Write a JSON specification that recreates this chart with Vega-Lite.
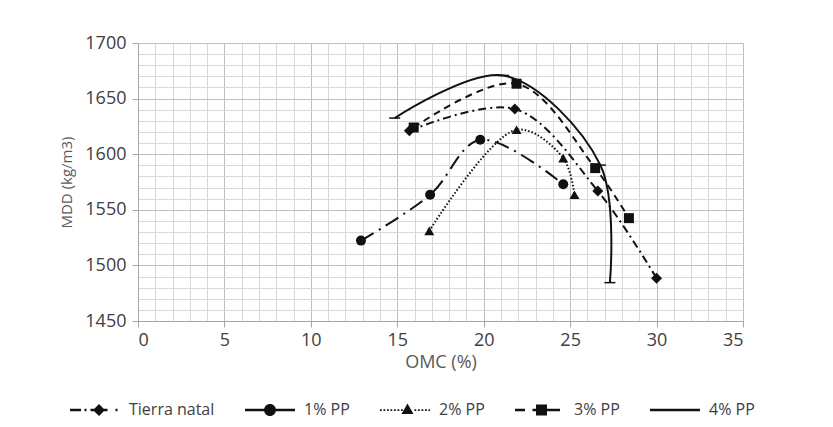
{
  "$schema": "https://vega.github.io/schema/vega-lite/v6.json",
  "width": 605,
  "height": 278,
  "autosize": "none",
  "padding": {"left": 138, "top": 43, "right": 90, "bottom": 106},
  "background": "white",
  "config": {
    "view": {"stroke": null},
    "font": "Open Sans",
    "axis": {
      "labelFont": "Open Sans",
      "labelFontSize": 18,
      "labelColor": "#404040",
      "titleFont": "Open Sans",
      "titleFontWeight": "normal",
      "titleColor": "#595959",
      "domainColor": "#a6a6a6",
      "tickColor": "#a6a6a6",
      "tickSize": 6,
      "gridWidth": 1
    },
    "legend": {
      "orient": "none",
      "legendX": -68,
      "legendY": 342,
      "direction": "horizontal",
      "columns": 5,
      "symbolSize": 2500,
      "symbolOpacity": 1,
      "symbolFillColor": "#111",
      "symbolStrokeColor": "transparent",
      "symbolStrokeWidth": 0,
      "labelOffset": 9,
      "columnPadding": 30,
      "labelFont": "Open Sans",
      "labelFontSize": 16,
      "labelColor": "#404040"
    }
  },
  "data": {
    "values": [
      {"series": "Tierra natal", "omc": 15.7, "mdd": 1621},
      {"series": "Tierra natal", "omc": 21.8, "mdd": 1640.6},
      {"series": "Tierra natal", "omc": 26.6, "mdd": 1567},
      {"series": "Tierra natal", "omc": 30.0, "mdd": 1488.5},
      {"series": "1% PP", "omc": 12.9, "mdd": 1522.3},
      {"series": "1% PP", "omc": 16.9, "mdd": 1563.5},
      {"series": "1% PP", "omc": 19.8, "mdd": 1613},
      {"series": "1% PP", "omc": 24.6, "mdd": 1573},
      {"series": "2% PP", "omc": 16.85, "mdd": 1531},
      {"series": "2% PP", "omc": 21.9, "mdd": 1622},
      {"series": "2% PP", "omc": 24.6, "mdd": 1596.5},
      {"series": "2% PP", "omc": 25.25, "mdd": 1563.5},
      {"series": "3% PP", "omc": 15.95, "mdd": 1624},
      {"series": "3% PP", "omc": 21.9, "mdd": 1663.4},
      {"series": "3% PP", "omc": 26.45, "mdd": 1587.5},
      {"series": "3% PP", "omc": 28.4, "mdd": 1542.5},
      {"series": "4% PP", "omc": 14.85, "mdd": 1632.5},
      {"series": "4% PP", "omc": 21.15, "mdd": 1670.8},
      {"series": "4% PP", "omc": 26.75, "mdd": 1590.2},
      {"series": "4% PP", "omc": 27.3, "mdd": 1484.5}
    ]
  },
  "encoding": {
    "x": {
      "field": "omc",
      "type": "quantitative",
      "scale": {"domain": [0, 35], "nice": false, "zero": false},
      "axis": {
        "title": "OMC (%)",
        "titleFontSize": 18,
        "titlePadding": 4,
        "values": [0,1,2,3,4,5,6,7,8,9,10,11,12,13,14,15,16,17,18,19,20,21,22,23,24,25,26,27,28,29,30,31,32,33,34,35],
        "format": "d",
        "labelExpr": "datum.value % 5 === 0 ? datum.label : ''",
        "labelOverlap": false,
        "labelPadding": 4,
        "grid": true,
        "gridColor": {"condition": {"test": "datum.value % 5 === 0", "value": "#bfbfbf"}, "value": "#d9d9d9"},
        "tickOpacity": {"condition": {"test": "datum.value % 5 === 0", "value": 1}, "value": 0}
      }
    },
    "y": {
      "field": "mdd",
      "type": "quantitative",
      "scale": {"domain": [1450, 1700], "nice": false, "zero": false},
      "axis": {
        "title": "MDD (kg/m3)",
        "titleFontSize": 15,
        "titlePadding": 10,
        "values": [1450,1460,1470,1480,1490,1500,1510,1520,1530,1540,1550,1560,1570,1580,1590,1600,1610,1620,1630,1640,1650,1660,1670,1680,1690,1700],
        "format": "d",
        "labelExpr": "datum.value % 50 === 0 ? datum.label : ''",
        "labelOverlap": false,
        "labelPadding": 6,
        "grid": true,
        "gridColor": {"condition": {"test": "datum.value % 50 === 0", "value": "#bfbfbf"}, "value": "#d9d9d9"},
        "tickOpacity": {"condition": {"test": "datum.value % 50 === 0", "value": 1}, "value": 0}
      }
    }
  },
  "layer": [
    {
      "transform": [{"filter": {"field": "series", "equal": "Tierra natal"}}],
      "mark": {"type": "line", "interpolate": "catmull-rom", "color": "#111", "strokeWidth": 2, "strokeDash": [8, 4, 2, 4]},
      "encoding": {}
    },
    {
      "transform": [{"filter": {"field": "series", "equal": "1% PP"}}],
      "mark": {"type": "line", "interpolate": "catmull-rom", "color": "#111", "strokeWidth": 2, "strokeDash": [15, 6, 2, 6]},
      "encoding": {}
    },
    {
      "transform": [{"filter": {"field": "series", "equal": "2% PP"}}],
      "mark": {"type": "line", "interpolate": "catmull-rom", "color": "#111", "strokeWidth": 2, "strokeDash": [1.5, 2]},
      "encoding": {}
    },
    {
      "transform": [{"filter": {"field": "series", "equal": "3% PP"}}],
      "mark": {"type": "line", "interpolate": "catmull-rom", "color": "#111", "strokeWidth": 2, "strokeDash": [7, 5]},
      "encoding": {}
    },
    {
      "transform": [{"filter": {"field": "series", "equal": "4% PP"}}],
      "mark": {"type": "line", "interpolate": "catmull-rom", "color": "#111", "strokeWidth": 2},
      "encoding": {}
    },
    {
      "transform": [{"filter": {"field": "series", "equal": "Tierra natal"}}],
      "mark": {"type": "point", "filled": true, "color": "#111", "opacity": 1, "size": 100, "shape": "M0,-1.1L1.1,0L0,1.1L-1.1,0Z"}
    },
    {
      "transform": [{"filter": {"field": "series", "equal": "1% PP"}}],
      "mark": {"type": "point", "filled": true, "color": "#111", "opacity": 1, "size": 100, "shape": "circle"}
    },
    {
      "transform": [{"filter": {"field": "series", "equal": "2% PP"}}],
      "mark": {"type": "point", "filled": true, "color": "#111", "opacity": 1, "size": 100, "shape": "triangle-up"}
    },
    {
      "transform": [{"filter": {"field": "series", "equal": "3% PP"}}],
      "mark": {"type": "point", "filled": true, "color": "#111", "opacity": 1, "size": 100, "shape": "square"}
    },
    {
      "transform": [{"filter": {"field": "series", "equal": "4% PP"}}],
      "mark": {"type": "point", "filled": true, "color": "#111", "opacity": 1, "size": 100, "shape": "M-1.1,-0.15H1.1V0.15H-1.1Z"}
    },
    {
      "mark": {"type": "point", "filled": true, "color": "#111", "opacity": 0, "size": 1},
      "encoding": {
        "shape": {
          "field": "series",
          "type": "nominal",
          "scale": {
            "domain": ["Tierra natal", "1% PP", "2% PP", "3% PP", "4% PP"],
            "range": [
              "M-1,-0.05H-0.56V0.05H-1Z M-0.42,-0.05H-0.34V0.05H-0.42Z M-0.18,-0.05H0.5V0.05H-0.18Z M0.16,-0.24L0.4,0L0.16,0.24L-0.08,0Z M0.82,-0.05H0.9V0.05H0.82Z",
              "M-1,-0.05H-0.2V0.05H-1Z M0.2,-0.05H1V0.05H0.2Z M0.24,0A0.24,0.24,0,1,1,-0.24,0A0.24,0.24,0,1,1,0.24,0Z",
              "M-1,-0.035h0.07v0.07h-0.07Z M-0.86,-0.035h0.07v0.07h-0.07Z M-0.72,-0.035h0.07v0.07h-0.07Z M-0.58,-0.035h0.07v0.07h-0.07Z M-0.44,-0.035h0.07v0.07h-0.07Z M-0.3,-0.035h0.07v0.07h-0.07Z M-0.16,-0.035h0.07v0.07h-0.07Z M0.1,-0.26L0.34,0.16L-0.14,0.16Z M0.38,-0.035h0.07v0.07h-0.07Z M0.52,-0.035h0.07v0.07h-0.07Z M0.66,-0.035h0.07v0.07h-0.07Z M0.8,-0.035h0.07v0.07h-0.07Z M0.94,-0.035h0.06v0.07h-0.06Z",
              "M-1,-0.05H-0.6V0.05H-1Z M-0.3,-0.05H-0.16V0.05H-0.3Z M-0.16,-0.22H0.28V0.22H-0.16Z M0.28,-0.05H0.8V0.05H0.28Z",
              "M-1,-0.05H1V0.05H-1Z"
            ]
          },
          "legend": {"title": null}
        }
      }
    }
  ]
}
